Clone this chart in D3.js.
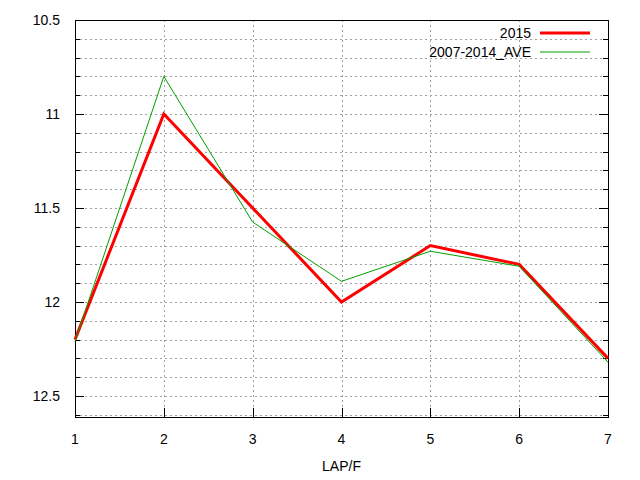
<!DOCTYPE html>
<html><head><meta charset="utf-8">
<script src="https://cdn.jsdelivr.net/npm/d3@7"></script>
<style>body{margin:0;background:#fff}text{font-family:"Liberation Sans",Arial,sans-serif;font-size:14px}</style>
</head><body><svg width="640" height="480"></svg>
<script>
const laps = [1, 2, 3, 4, 5, 6, 7];
const y2015 = [12.2, 11.0, 11.5, 12.0, 11.7, 11.8, 12.3];
const yAve = [12.21, 10.8, 11.575, 11.89, 11.73, 11.81, 12.32];
const yTicks = [10.5, 11, 11.5, 12, 12.5];

const svg = d3.select('svg');
const m = {l: 75, r: 608, t: 20, b: 417};
const x = d3.scaleLinear().domain([1, 7]).range([m.l, m.r]);
const y = d3.scaleLinear().domain([10.5, 12.6117]).range([m.t, m.b]);

// grid (dotted, every 0.1 on y)
const minor = d3.range(10.6, 12.61, 0.1);
svg.selectAll('.gy').data(minor).join('line')
    .attr('x1', m.l).attr('x2', m.r)
    .attr('y1', d => Math.round(y(d)) + 0.5).attr('y2', d => Math.round(y(d)) + 0.5)
    .attr('stroke', '#a0a0a0').attr('stroke-dasharray', '2,3');
svg.selectAll('.gx').data(laps.slice(1, -1)).join('line')
    .attr('x1', d => Math.round(x(d)) + 0.5).attr('x2', d => Math.round(x(d)) + 0.5)
    .attr('y1', m.t).attr('y2', m.b)
    .attr('stroke', '#a0a0a0').attr('stroke-dasharray', '2,3');

// ticks
svg.selectAll('.ty').data(minor).join('line')
    .attr('x1', m.l).attr('x2', d => m.l + (yTicks.some(t => Math.abs(t - d) < 1e-6) ? 9 : 5))
    .attr('y1', d => Math.round(y(d)) + 0.5).attr('y2', d => Math.round(y(d)) + 0.5)
    .attr('stroke', '#000');
svg.selectAll('.ty2').data(minor).join('line')
    .attr('x1', m.r).attr('x2', d => m.r - (yTicks.some(t => Math.abs(t - d) < 1e-6) ? 9 : 5))
    .attr('y1', d => Math.round(y(d)) + 0.5).attr('y2', d => Math.round(y(d)) + 0.5)
    .attr('stroke', '#000');
svg.selectAll('.tl').data(yTicks).join('text')
    .attr('x', m.l - 15).attr('y', d => y(d) + 5).attr('text-anchor', 'end').text(d => d);
svg.selectAll('.xl').data(laps).join('text')
    .attr('x', d => x(d)).attr('y', m.b + 27).attr('text-anchor', 'middle').text(d => d);
svg.selectAll('.tx').data(laps).join('line')
    .attr('x1', d => Math.round(x(d)) + 0.5).attr('x2', d => Math.round(x(d)) + 0.5)
    .attr('y1', m.b).attr('y2', m.b - 9).attr('stroke', '#000');
svg.append('text').attr('x', (m.l + m.r) / 2).attr('y', 471).attr('text-anchor', 'middle').text('LAP/F');

svg.append('rect').attr('x', m.l + 0.5).attr('y', m.t + 0.5)
    .attr('width', m.r - m.l).attr('height', m.b - m.t)
    .attr('fill', 'none').attr('stroke', '#000');

const line = d3.line().x((d, i) => x(laps[i])).y(d => y(d));
svg.append('path').attr('d', line(y2015)).attr('fill', 'none').attr('stroke', '#ff0000').attr('stroke-width', 3);
svg.append('path').attr('d', line(yAve)).attr('fill', 'none').attr('stroke', '#00a000').attr('stroke-width', 1);

// legend
const leg = [['2015', '#ff0000', 3], ['2007-2014_AVE', '#00a000', 1]];
leg.forEach((d, i) => {
    svg.append('text').attr('x', 531).attr('y', 38 + i * 19).attr('text-anchor', 'end').text(d[0]);
    svg.append('line').attr('x1', 540).attr('x2', 590).attr('y1', 33 + i * 19).attr('y2', 33 + i * 19)
        .attr('stroke', d[1]).attr('stroke-width', d[2]);
});
</script></body></html>
